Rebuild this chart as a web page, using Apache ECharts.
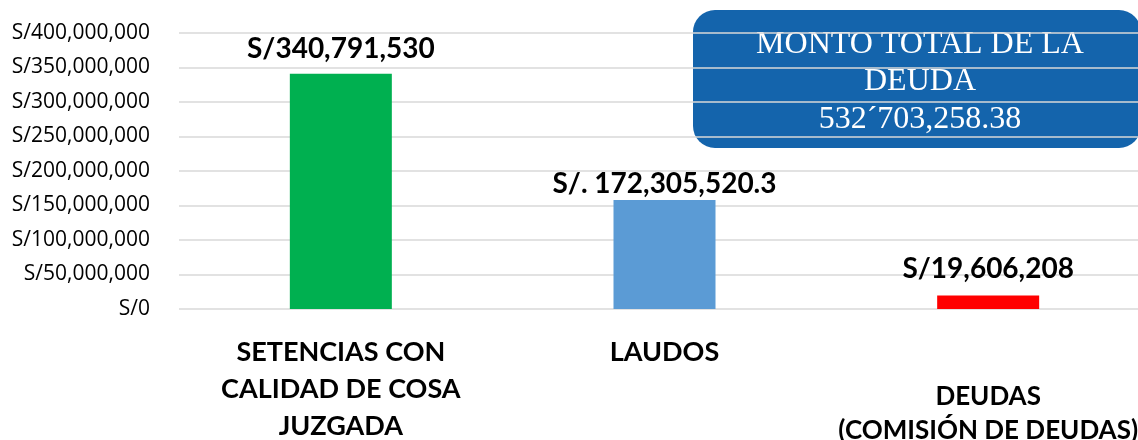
<!DOCTYPE html>
<html><head><meta charset="utf-8">
<script src="https://cdn.jsdelivr.net/npm/echarts@6/dist/echarts.min.js"></script>
<style>html,body{margin:0;padding:0;background:#fff}#c{width:1138px;height:440px}</style>
</head><body><div id="c"></div>
<script>
const categories = ['SETENCIAS CON\nCALIDAD DE COSA\nJUZGADA', 'LAUDOS', '\nDEUDAS\n(COMISIÓN DE DEUDAS)'];
const values = [340791530, 158000000, 19606208];
const valueLabels = ['S/340,791,530', 'S/. 172,305,520.3', 'S/19,606,208'];
const colors = ['#00b050', '#5b9bd5', '#ff0000'];
const boxText = 'MONTO TOTAL DE LA\nDEUDA\n532´703,258.38';

const labelDist = [11, 2, 13];
const catStyles = [{}, {}, {fontSize: 26, lineHeight: 34, padding: [12, 0, 0, 0]}];
const chart = echarts.init(document.getElementById('c'));
chart.setOption({
  animation: false,
  grid: {left: 179, right: -12, top: 33, bottom: 131, containLabel: false, outerBoundsMode: 'none'},
  xAxis: {
    type: 'category', data: categories.map((c, i) => ({value: c, textStyle: catStyles[i]})),
    axisLine: {show: false}, axisTick: {show: false},
    axisLabel: {interval: 0, margin: 25, fontFamily: 'Lato', fontWeight: 'bold', fontSize: 27, color: '#000', lineHeight: 37, verticalAlign: 'top'}
  },
  yAxis: {
    type: 'value', min: 0, max: 400000000, interval: 50000000,
    axisLine: {show: false}, axisTick: {show: false},
    splitLine: {lineStyle: {color: '#d9d9d9', width: 1.5}},
    axisLabel: {margin: 29, fontFamily: 'Open Sans', fontSize: 21, color: '#000',
      formatter: v => 'S/' + v.toLocaleString('en-US')}
  },
  series: [{
    type: 'bar', barWidth: 102,
    data: values.map((v, i) => ({value: v, itemStyle: {color: colors[i]},
      label: {show: true, position: 'top', distance: labelDist[i], formatter: valueLabels[i],
        fontFamily: 'Lato', fontWeight: 'bold', fontSize: 28, color: '#000'}}))
  }],
  graphic: [{
    type: 'group', left: 693, top: 10,
    children: [
      {type: 'rect', shape: {x: 0, y: 0, width: 448, height: 138, r: 22}, style: {fill: '#1464ac'}},
      {type: 'text', x: 227, y: 72, style: {text: boxText, fill: '#fff', font: '32px "Liberation Serif"', lineHeight: 37.5, align: 'center', verticalAlign: 'middle'}}
    ]
  }]
});
</script></body></html>
